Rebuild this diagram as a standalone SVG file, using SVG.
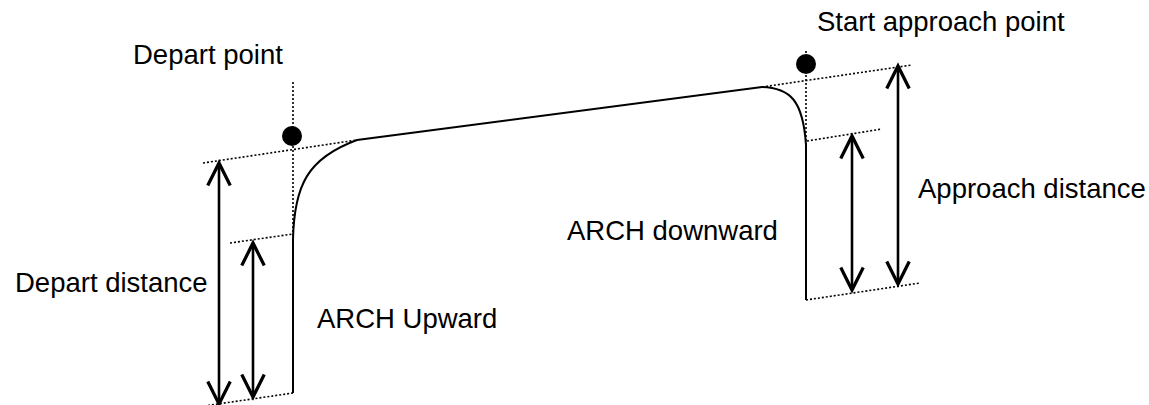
<svg xmlns="http://www.w3.org/2000/svg" width="1149" height="405" viewBox="0 0 1149 405">
<style>
  text { font-family: "Liberation Sans", Arial, sans-serif; font-size: 27.5px; fill: #000; }
  .dot { stroke: #000; stroke-width: 1.6; stroke-dasharray: 2 2; fill: none; }
  .path { stroke: #000; stroke-width: 2; fill: none; }
  .arrow { stroke: #000; stroke-width: 2.6; fill: none; marker-start: url(#ah); marker-end: url(#ah); }
</style>
<defs>
  <marker id="ah" markerUnits="userSpaceOnUse" markerWidth="30" markerHeight="30" refX="0" refY="0" viewBox="-20 -12 22 24" orient="auto-start-reverse" overflow="visible">
    <path d="M-18,-9 L0,0 L-18,9" fill="none" stroke="#000" stroke-width="2.6"/>
  </marker>
</defs>
<rect width="1149" height="405" fill="#fff"/>
<g id="guides">
  <line class="dot" x1="293" y1="82" x2="293" y2="240"/>
  <line class="dot" x1="203" y1="163" x2="357" y2="140"/>
  <line class="dot" x1="230" y1="243" x2="293" y2="234"/>
  <line class="dot" x1="204" y1="406" x2="293" y2="393"/>
  <line class="dot" x1="806" y1="51" x2="806" y2="148"/>
  <line class="dot" x1="762" y1="87" x2="912" y2="65"/>
  <line class="dot" x1="807" y1="141" x2="882" y2="129"/>
  <line class="dot" x1="806" y1="300" x2="920" y2="283"/>
</g>
<g id="path">
  <path class="path" d="M293,393 L293,240 C294,185 308,158 357,140 L762,87 C790,88 803,100 806,145 L806,300"/>
</g>
<g id="depart-point">
  <circle cx="292" cy="136" r="10" fill="#000"/>
  <text x="133" y="64">Depart point</text>
</g>
<g id="start-approach-point">
  <circle cx="806" cy="64" r="10" fill="#000"/>
  <text x="817" y="31">Start approach point</text>
</g>
<g id="connectors">
  <line class="arrow" x1="219" y1="163" x2="219" y2="404"/>
  <line class="arrow" x1="253" y1="243" x2="253" y2="397"/>
  <line class="arrow" x1="852" y1="136" x2="852" y2="290"/>
  <line class="arrow" x1="898" y1="66" x2="898" y2="284"/>
</g>
<g id="labels">
  <text x="15" y="292">Depart distance</text>
  <text x="317" y="328">ARCH Upward</text>
  <text x="567" y="240">ARCH downward</text>
  <text x="918" y="198">Approach distance</text>
</g>
</svg>
